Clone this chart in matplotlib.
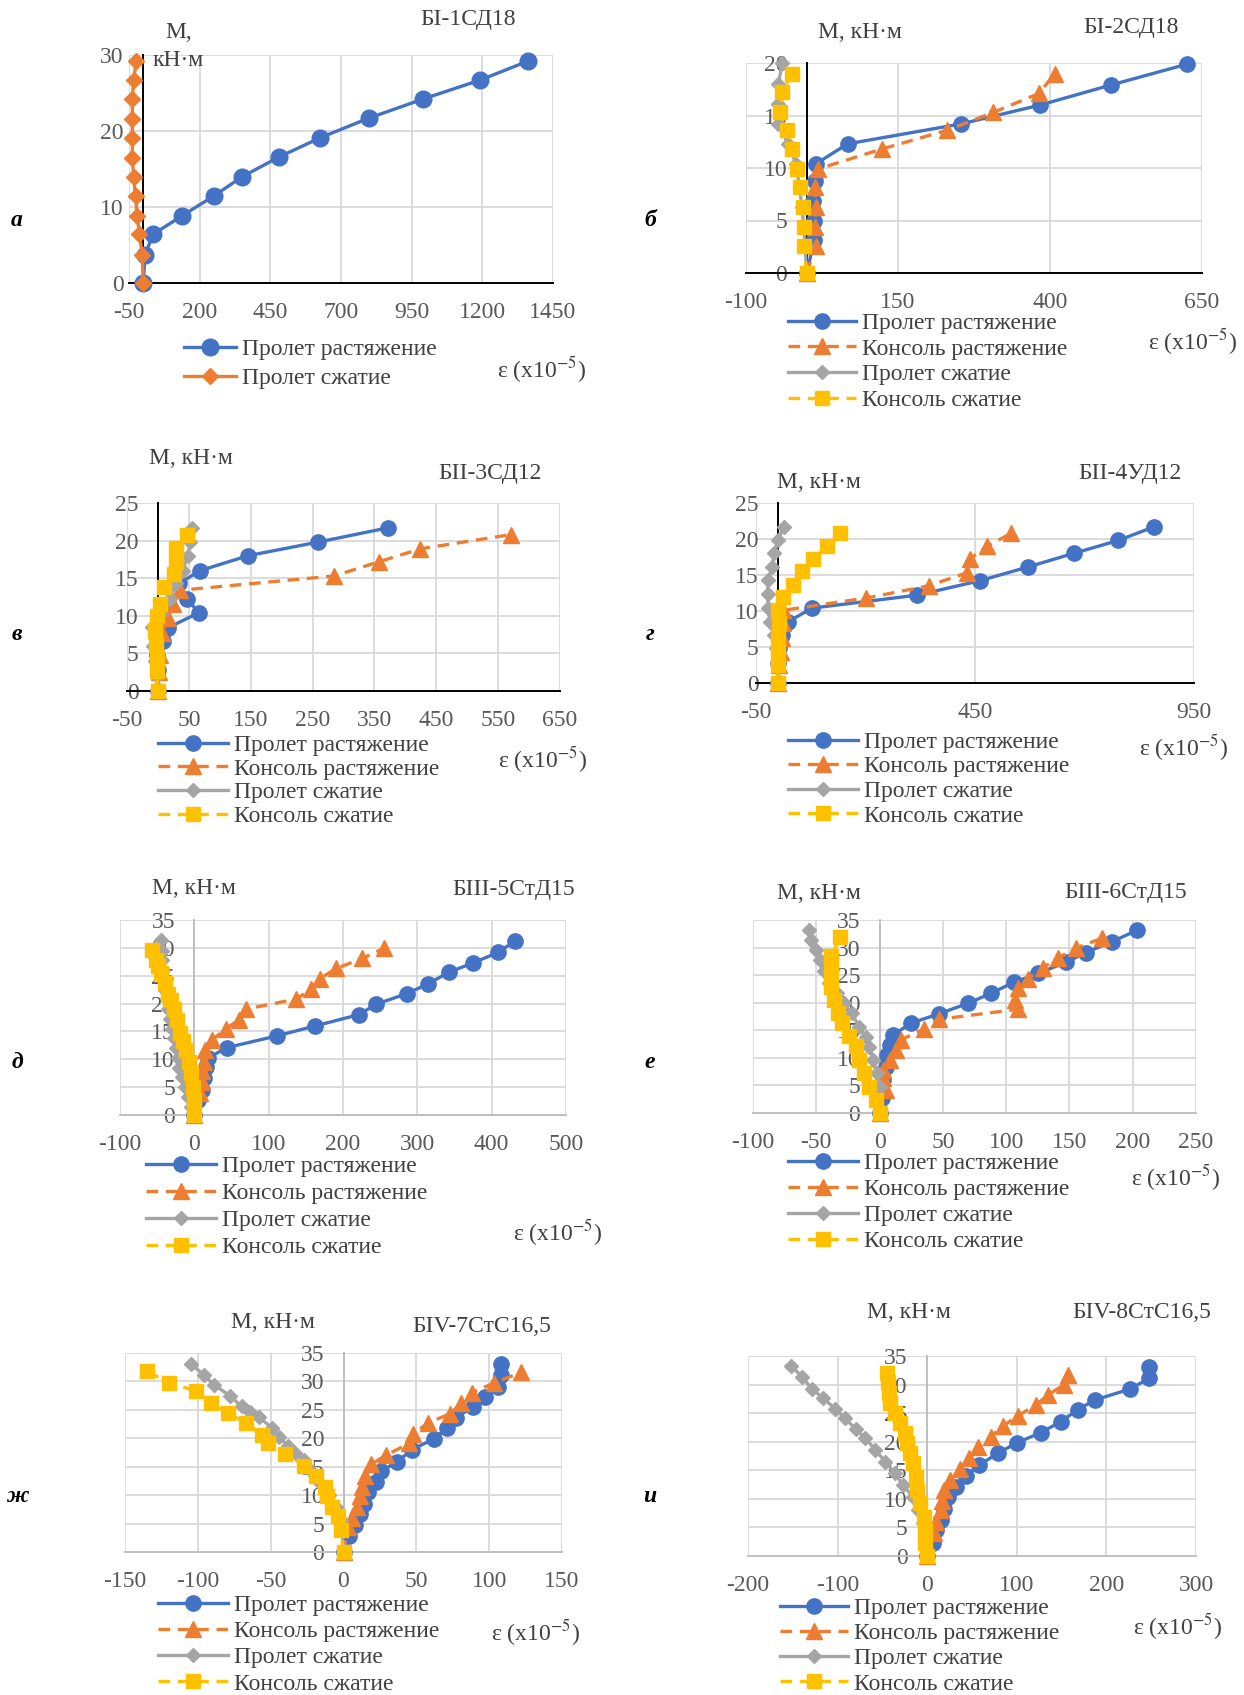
import numpy as np
import matplotlib
matplotlib.use('Agg')
import matplotlib.pyplot as plt

plt.rcParams['font.family'] = ['Liberation Serif', 'DejaVu Serif']
plt.rcParams['mathtext.fontset'] = 'stix'

W, H = 1244, 1695
BLUE = '#4472C4'; ORANGE = '#ED7D31'; GREY = '#A5A5A5'; YELLOW = '#FFC000'
TXT = '#404040'; TICK = '#595959'

LBL_PT = 'Пролет растяжение'
LBL_KT = 'Консоль растяжение'
LBL_PC = 'Пролет сжатие'
LBL_KC = 'Консоль сжатие'
TITLES = ['БІ-1СД18', 'БІ-2СД18', 'БІІ-3СД12', 'БІІ-4УД12',
          'БІІІ-5СтД15', 'БІІІ-6СтД15', 'БІV-7СтС16,5', 'БІV-8СтС16,5']
LETTERS = ['а', 'б', 'в', 'г', 'д', 'е', 'ж', 'и']

# ---------------- panel а ----------------
a_pt_x = [0, 7, 35, 136, 252, 351, 482, 626, 799, 990, 1192, 1362]
a_pt_y = [0, 3.7, 6.4, 8.8, 11.5, 14.0, 16.6, 19.1, 21.7, 24.2, 26.7, 29.2]
a_pc_x = [0, -3, -13, -21, -27, -34, -38, -38, -38, -38, -34, -24]
a_pc_y = [0, 3.7, 6.4, 8.8, 11.5, 14.0, 16.5, 19.1, 21.6, 24.2, 26.7, 29.2]

# ---------------- panel б ----------------
b_pt_x = [0, 12, 12, 10, 14, 15, 67, 254, 384, 500, 626]
b_pt_y = [0, 3.1, 5.0, 6.9, 8.8, 10.4, 12.3, 14.2, 16.0, 17.9, 19.9]
b_kt_x = [0, 15, 13, 15, 14, 18, 123, 231, 307, 382, 408]
b_kt_y = [0, 2.6, 4.4, 6.3, 8.2, 9.9, 11.8, 13.6, 15.3, 17.1, 19.0]
b_pc_x = [0, -3, -5, -8, -12, -18, -31, -47, -47, -47, -40]
b_pc_y = [0, 2.6, 4.4, 6.3, 8.2, 10.4, 12.3, 14.2, 16.1, 18.0, 20.0]
b_kc_x = [0, -5, -5, -7, -11, -16, -24, -32, -44, -41, -24]
b_kc_y = [0, 2.6, 4.4, 6.3, 8.2, 9.9, 11.8, 13.6, 15.3, 17.2, 19.0]

# ---------------- panel в ----------------
v_pt_x = [0, 0, -2, 8, 16, 66, 47, 34, 68, 146, 259, 372]
v_pt_y = [0, 2.8, 4.8, 6.6, 8.4, 10.4, 12.3, 14.3, 16.0, 18.0, 19.8, 21.7]
v_kt_x = [0, 2, 4, 6, 16, 24, 36, 285, 358, 424, 571]
v_kt_y = [0, 2.5, 4.8, 7.7, 9.7, 11.6, 13.4, 15.3, 17.2, 18.9, 20.8]
v_pc_x = [0, -2, -4, -8, -10, 5, 20, 29, 40, 48, 52, 55]
v_pc_y = [0, 2.0, 4.0, 6.0, 8.5, 10.4, 12.3, 14.3, 16.0, 17.9, 19.8, 21.7]
v_kc_x = [0, -2, -2, -3, -4, -2, 3, 10, 26, 29, 29, 47]
v_kc_y = [0, 2.7, 4.5, 6.3, 8.0, 10.0, 11.6, 13.8, 15.6, 17.2, 19.0, 20.8]

# ---------------- panel г ----------------
g_pt_x = [0, 0, 3, 9.5, 23, 78, 318, 461, 570, 675, 777, 859]
g_pt_y = [0, 2.8, 4.8, 6.7, 8.5, 10.4, 12.2, 14.2, 16.1, 18.0, 19.8, 21.7]
g_kt_x = [0, 3, 6, 10, 12, 12, 202, 344, 431, 438, 478, 533]
g_kt_y = [0, 2.5, 4.3, 6.3, 8.3, 10.1, 11.8, 13.5, 15.3, 17.2, 19.0, 20.8]
g_pc_x = [0, -2, -5, -10, -18, -23, -23, -23, -13, -9, 0, 14]
g_pc_y = [0, 2.8, 4.8, 6.7, 8.5, 10.4, 12.3, 14.3, 16.1, 18.0, 19.9, 21.7]
g_kc_x = [0, 0, 0, 0, 2, 0, 12, 34, 55, 80, 113, 142]
g_kc_y = [0, 2.5, 4.6, 6.5, 8.3, 10.2, 12.0, 13.6, 15.5, 17.2, 19.0, 20.8]

# ---------------- panel д ----------------
d_pt_x = [0, 5, 10, 13, 16, 18, 44, 111, 163, 221, 245, 286, 314, 342, 375, 409, 431]
d_pt_y = [0, 2.7, 4.5, 6.6, 8.7, 10.2, 12.1, 14.2, 16.0, 18.0, 19.9, 21.8, 23.5, 25.6, 27.3, 29.2, 31.2]
d_kt_x = [0, 7.5, 10, 10, 13, 14, 24, 42, 60, 69, 137, 157, 169, 191, 226, 255]
d_kt_y = [0, 3.9, 6.0, 7.9, 9.6, 11.7, 13.5, 15.4, 17.1, 19.0, 20.8, 22.6, 24.5, 26.3, 28.1, 29.9]
d_pc_x = [0, -4, -9, -13, -16, -20, -22, -25, -28, -30, -33, -35, -37, -39, -41, -42, -43, -44, -45]
d_pc_y = [0, 1.5, 3.3, 5.0, 6.8, 8.5, 10.2, 12.0, 13.8, 15.5, 17.3, 19.0, 20.8, 22.5, 24.3, 26.0, 27.8, 29.5, 31.5]
d_kc_x = [0, 0, -2, -4, -7, -11, -15, -19, -23, -27, -31, -35, -40, -45, -49, -52, -57]
d_kc_y = [0, 2.7, 5.1, 7.5, 9.5, 11.7, 13.3, 14.7, 17.0, 19.1, 20.6, 21.8, 23.7, 25.5, 26.7, 27.8, 29.7]

# ---------------- panel е ----------------
e_pt_x = [0, 1.6, 3, 5, 6, 8, 11, 25, 47, 70, 88, 106, 125, 147, 163, 184, 203]
e_pt_y = [0, 2.7, 6.0, 8.4, 10.6, 12.4, 14.2, 16.3, 18.0, 19.9, 21.7, 23.7, 25.3, 27.3, 29.1, 31.1, 33.1]
e_kt_x = [0, 5, 3, 3, 8, 13, 17, 35, 47, 109, 107, 109, 117, 129, 141, 155, 176]
e_kt_y = [0, 4.2, 6.3, 7.8, 9.7, 11.5, 13.3, 15.2, 17.0, 18.8, 20.5, 22.6, 24.3, 26.3, 28.1, 29.9, 31.7]
e_pc_x = [0, 0, -2, -5, -8, -11, -16, -22, -28, -34, -40, -44, -47, -50, -54, -56]
e_pc_y = [0, 4.8, 7.2, 9.6, 12.0, 13.8, 15.6, 18.1, 19.9, 21.7, 23.6, 25.8, 27.8, 29.6, 31.4, 33.2]
e_kc_x = [0, -3, -8, -12, -16, -19, -24, -30, -33, -36, -38, -38, -38.5, -38, -31]
e_kc_y = [0, 2.4, 4.8, 7.2, 9.7, 12.1, 13.9, 16.3, 18.1, 20.5, 22.9, 24.7, 26.6, 28.4, 32.0]

# ---------------- panel ж ----------------
zh_pt_x = [0, 4, 8, 11, 14, 17, 22.5, 26, 37, 47, 62, 71, 77, 89, 97, 106, 108, 108]
zh_pt_y = [0, 2.8, 4.8, 6.7, 8.5, 10.5, 12.3, 14.2, 15.9, 18.0, 19.9, 21.8, 23.6, 25.5, 27.3, 29.0, 31.1, 33.1]
zh_kt_x = [0, 3, 6, 9, 11, 13, 15, 19, 29, 45, 48, 58, 73, 81, 88, 103, 122]
zh_kt_y = [0, 4.4, 6.0, 8.0, 9.8, 11.4, 13.3, 15.4, 17.0, 19.1, 20.8, 22.7, 24.3, 26.2, 28.0, 29.7, 31.6]
zh_pc_x = [0, -1.5, -5, -10, -16, -22, -27, -33, -38, -44, -49, -58, -64, -70, -78, -89, -96, -105]
zh_pc_y = [0, 5.7, 8.0, 10.0, 12.1, 14.3, 16.2, 17.4, 18.6, 20.2, 21.8, 23.7, 24.6, 25.6, 27.5, 29.4, 31.2, 33.1]
zh_kc_x = [0, -2, -4, -8, -11, -13, -19, -27, -40, -52, -56, -67, -79, -91, -101, -120, -135]
zh_kc_y = [0, 3.9, 6.3, 8.0, 9.8, 11.5, 13.3, 15.2, 17.3, 19.2, 20.6, 22.7, 24.4, 26.2, 28.3, 29.8, 31.8]

# ---------------- panel и ----------------
i_pt_x = [0, 6, 10, 15, 19, 23, 32, 43, 58, 79, 100, 127, 149, 168, 187, 226, 248, 248]
i_pt_y = [0, 2.2, 4.5, 6.3, 8.3, 10.3, 12.0, 14.0, 15.9, 18.0, 19.8, 21.6, 23.5, 25.6, 27.3, 29.2, 31.1, 33.0]
i_kt_x = [0, 8, 10, 15, 17, 19, 26, 37, 47, 57, 71, 85, 101, 121, 135, 153, 157]
i_kt_y = [0, 4.0, 6.0, 8.1, 9.7, 11.6, 13.3, 15.2, 17.1, 19.0, 20.9, 22.8, 24.5, 26.4, 28.2, 30.0, 31.7]
i_pc_x = [0, -5, -10, -16, -27, -36, -47, -58, -69, -80, -92, -103, -116, -129, -140, -152]
i_pc_y = [0, 5.7, 8.1, 10.4, 12.4, 14.5, 16.5, 18.6, 20.6, 22.3, 24.1, 25.8, 27.6, 29.3, 31.4, 33.3]
i_kc_x = [0, -2, -3, -4, -8, -11, -13, -16, -19, -22, -25, -30, -36, -41, -43, -44, -45]
i_kc_y = [0, 2.2, 4.6, 6.9, 9.2, 11.6, 13.9, 16.2, 18.0, 19.7, 21.5, 23.2, 25.0, 26.7, 28.5, 30.5, 32.1]

# axis scales: (xmin, xmax, xstep, ymax, ystep)
SCALES = [(-50, 1450, 250, 30, 10), (-100, 650, 250, 20, 5),
          (-50, 650, 100, 25, 5), (-50, 950, 500, 25, 5),
          (-100, 500, 100, 35, 5), (-100, 250, 50, 35, 5),
          (-150, 150, 50, 35, 5), (-200, 300, 100, 35, 5)]

# ---------------- layout (pixels) ----------------
RECTS = [(129, 553, 55, 283), (746, 1202, 63, 273),
         (127, 560, 503, 691), (756, 1194, 503, 683),
         (120, 566, 920, 1115), (753, 1196, 920, 1113),
         (125, 562, 1353, 1552), (748, 1196, 1356, 1556)]
TITLE_POS = [(468, 20), (1131, 28), (490, 473), (1130, 473),
             (514, 890), (1126, 892), (482, 1327), (1142, 1313)]
M_POS = [None, (860, 32), (191, 458), (819, 482), (194, 888), (819, 893), (273, 1323), (909, 1313)]
LETTER_POS = [(17, 220), (650, 220), (17, 635), (650, 635),
              (17, 1062), (650, 1062), (17, 1497), (650, 1497)]
EPS_POS = [(542, 370), (1193, 342), (543, 760), (1184, 748),
           (558, 1233), (1176, 1178), (536, 1633), (1178, 1627)]
# legend: line start x, first row centre y, row spacing, handle length px
LEG = [(184, 349, 29, 52), (788, 323, 25.5, 68), (158, 745, 23.5, 70), (788, 742, 24.3, 70),
       (146, 1166, 26.7, 70), (788, 1163, 25.7, 70), (158, 1605, 26, 70), (780, 1608, 25, 68)]

FS = 17
fig = plt.figure(figsize=(W / 100, H / 100), dpi=100)


def make_axes(k):
    L, R, T, B = RECTS[k]
    xmin, xmax, xs, ymax, ys = SCALES[k]
    ax = fig.add_axes([L / W, 1 - B / H, (R - L) / W, (B - T) / H])
    ax.set_xlim(xmin, xmax)
    ax.set_ylim(0, ymax)
    xt = np.arange(xmin, xmax + 1e-9, xs)
    yt = np.arange(0, ymax + 1e-9, ys)
    ax.set_xticks(xt)
    ax.set_xticklabels([str(int(v)) for v in xt])
    ax.set_yticks(yt)
    ax.set_yticklabels([str(int(v)) for v in yt])
    ax.grid(True, color='#D9D9D9', lw=1.3)
    ax.set_axisbelow(True)
    for s in ('top', 'right'):
        ax.spines[s].set_visible(False)
    zc = 'black' if k < 4 else '#BFBFBF'
    ax.spines['left'].set_position(('data', 0))
    for s in ('left', 'bottom'):
        ax.spines[s].set_color(zc)
        ax.spines[s].set_linewidth(1.4)
        ax.spines[s].set_zorder(1)
    ax.tick_params(axis='y', length=0, pad=14, labelsize=FS, labelcolor=TICK)
    ax.tick_params(axis='x', length=0, pad=14, labelsize=FS, labelcolor=TICK)
    ax.patch.set_alpha(0)
    return ax


DASH = (0, (3.5, 2.3))


def series(ax, x, y, color, marker, ms, dashed, label):
    ax.plot(x, y, color=color, lw=2.4, ls=DASH if dashed else '-', marker=marker,
            ms=ms, mfc=color, mec=color, label=label, clip_on=False)


def legend(ax, k):
    x0, y0, sp, hl = LEG[k]
    fs_px = FS * 100 / 72
    rowh = fs_px * 0.9
    leg = ax.legend(loc='upper left', bbox_to_anchor=(x0 / W, 1 - (y0 - rowh / 2) / H),
                    bbox_transform=fig.transFigure, frameon=False, fontsize=FS,
                    borderpad=0, borderaxespad=0, handlelength=hl / fs_px,
                    handletextpad=6 / fs_px, labelspacing=(sp - rowh) / fs_px,
                    numpoints=1)
    for t in leg.get_texts():
        t.set_color(TXT)


def decorate(k):
    tx, ty = TITLE_POS[k]
    fig.text(tx / W, 1 - ty / H, TITLES[k], ha='center', va='center', fontsize=FS, color=TXT)
    lx, ly = LETTER_POS[k]
    fig.text(lx / W, 1 - ly / H, LETTERS[k], ha='center', va='center', fontsize=FS,
             fontweight='bold', fontstyle='italic', color='black')
    ex, ey = EPS_POS[k]
    fig.text(ex / W, 1 - ey / H, r'ε (x10$^{-5}$)', ha='center', va='center', fontsize=FS, color=TXT)
    if M_POS[k] is not None:
        mx, my = M_POS[k]
        fig.text(mx / W, 1 - my / H, 'М, кН·м', ha='center', va='center', fontsize=FS, color=TXT)


# panel а
ax = make_axes(0)
series(ax, a_pt_x, a_pt_y, BLUE, 'o', 12, False, LBL_PT)
series(ax, a_pc_x, a_pc_y, ORANGE, 'D', 8, False, LBL_PC)
legend(ax, 0)
decorate(0)
fig.text(179 / W, 1 - 32 / H, 'М,', ha='center', va='center', fontsize=FS, color=TXT)
fig.text(153 / W, 1 - 60 / H, 'кН·м', ha='left', va='center', fontsize=FS, color=TXT)

PANELS = [
    (1, b_pt_x, b_pt_y, b_kt_x, b_kt_y, b_pc_x, b_pc_y, b_kc_x, b_kc_y),
    (2, v_pt_x, v_pt_y, v_kt_x, v_kt_y, v_pc_x, v_pc_y, v_kc_x, v_kc_y),
    (3, g_pt_x, g_pt_y, g_kt_x, g_kt_y, g_pc_x, g_pc_y, g_kc_x, g_kc_y),
    (4, d_pt_x, d_pt_y, d_kt_x, d_kt_y, d_pc_x, d_pc_y, d_kc_x, d_kc_y),
    (5, e_pt_x, e_pt_y, e_kt_x, e_kt_y, e_pc_x, e_pc_y, e_kc_x, e_kc_y),
    (6, zh_pt_x, zh_pt_y, zh_kt_x, zh_kt_y, zh_pc_x, zh_pc_y, zh_kc_x, zh_kc_y),
    (7, i_pt_x, i_pt_y, i_kt_x, i_kt_y, i_pc_x, i_pc_y, i_kc_x, i_kc_y),
]
for k, ptx, pty, ktx, kty, pcx, pcy, kcx, kcy in PANELS:
    ax = make_axes(k)
    series(ax, ptx, pty, BLUE, 'o', 11, False, LBL_PT)
    series(ax, ktx, kty, ORANGE, '^', 11, True, LBL_KT)
    series(ax, pcx, pcy, GREY, 'D', 7.5, False, LBL_PC)
    series(ax, kcx, kcy, YELLOW, 's', 10, True, LBL_KC)
    legend(ax, k)
    decorate(k)

fig.savefig('out.png', dpi=100, facecolor='white')
